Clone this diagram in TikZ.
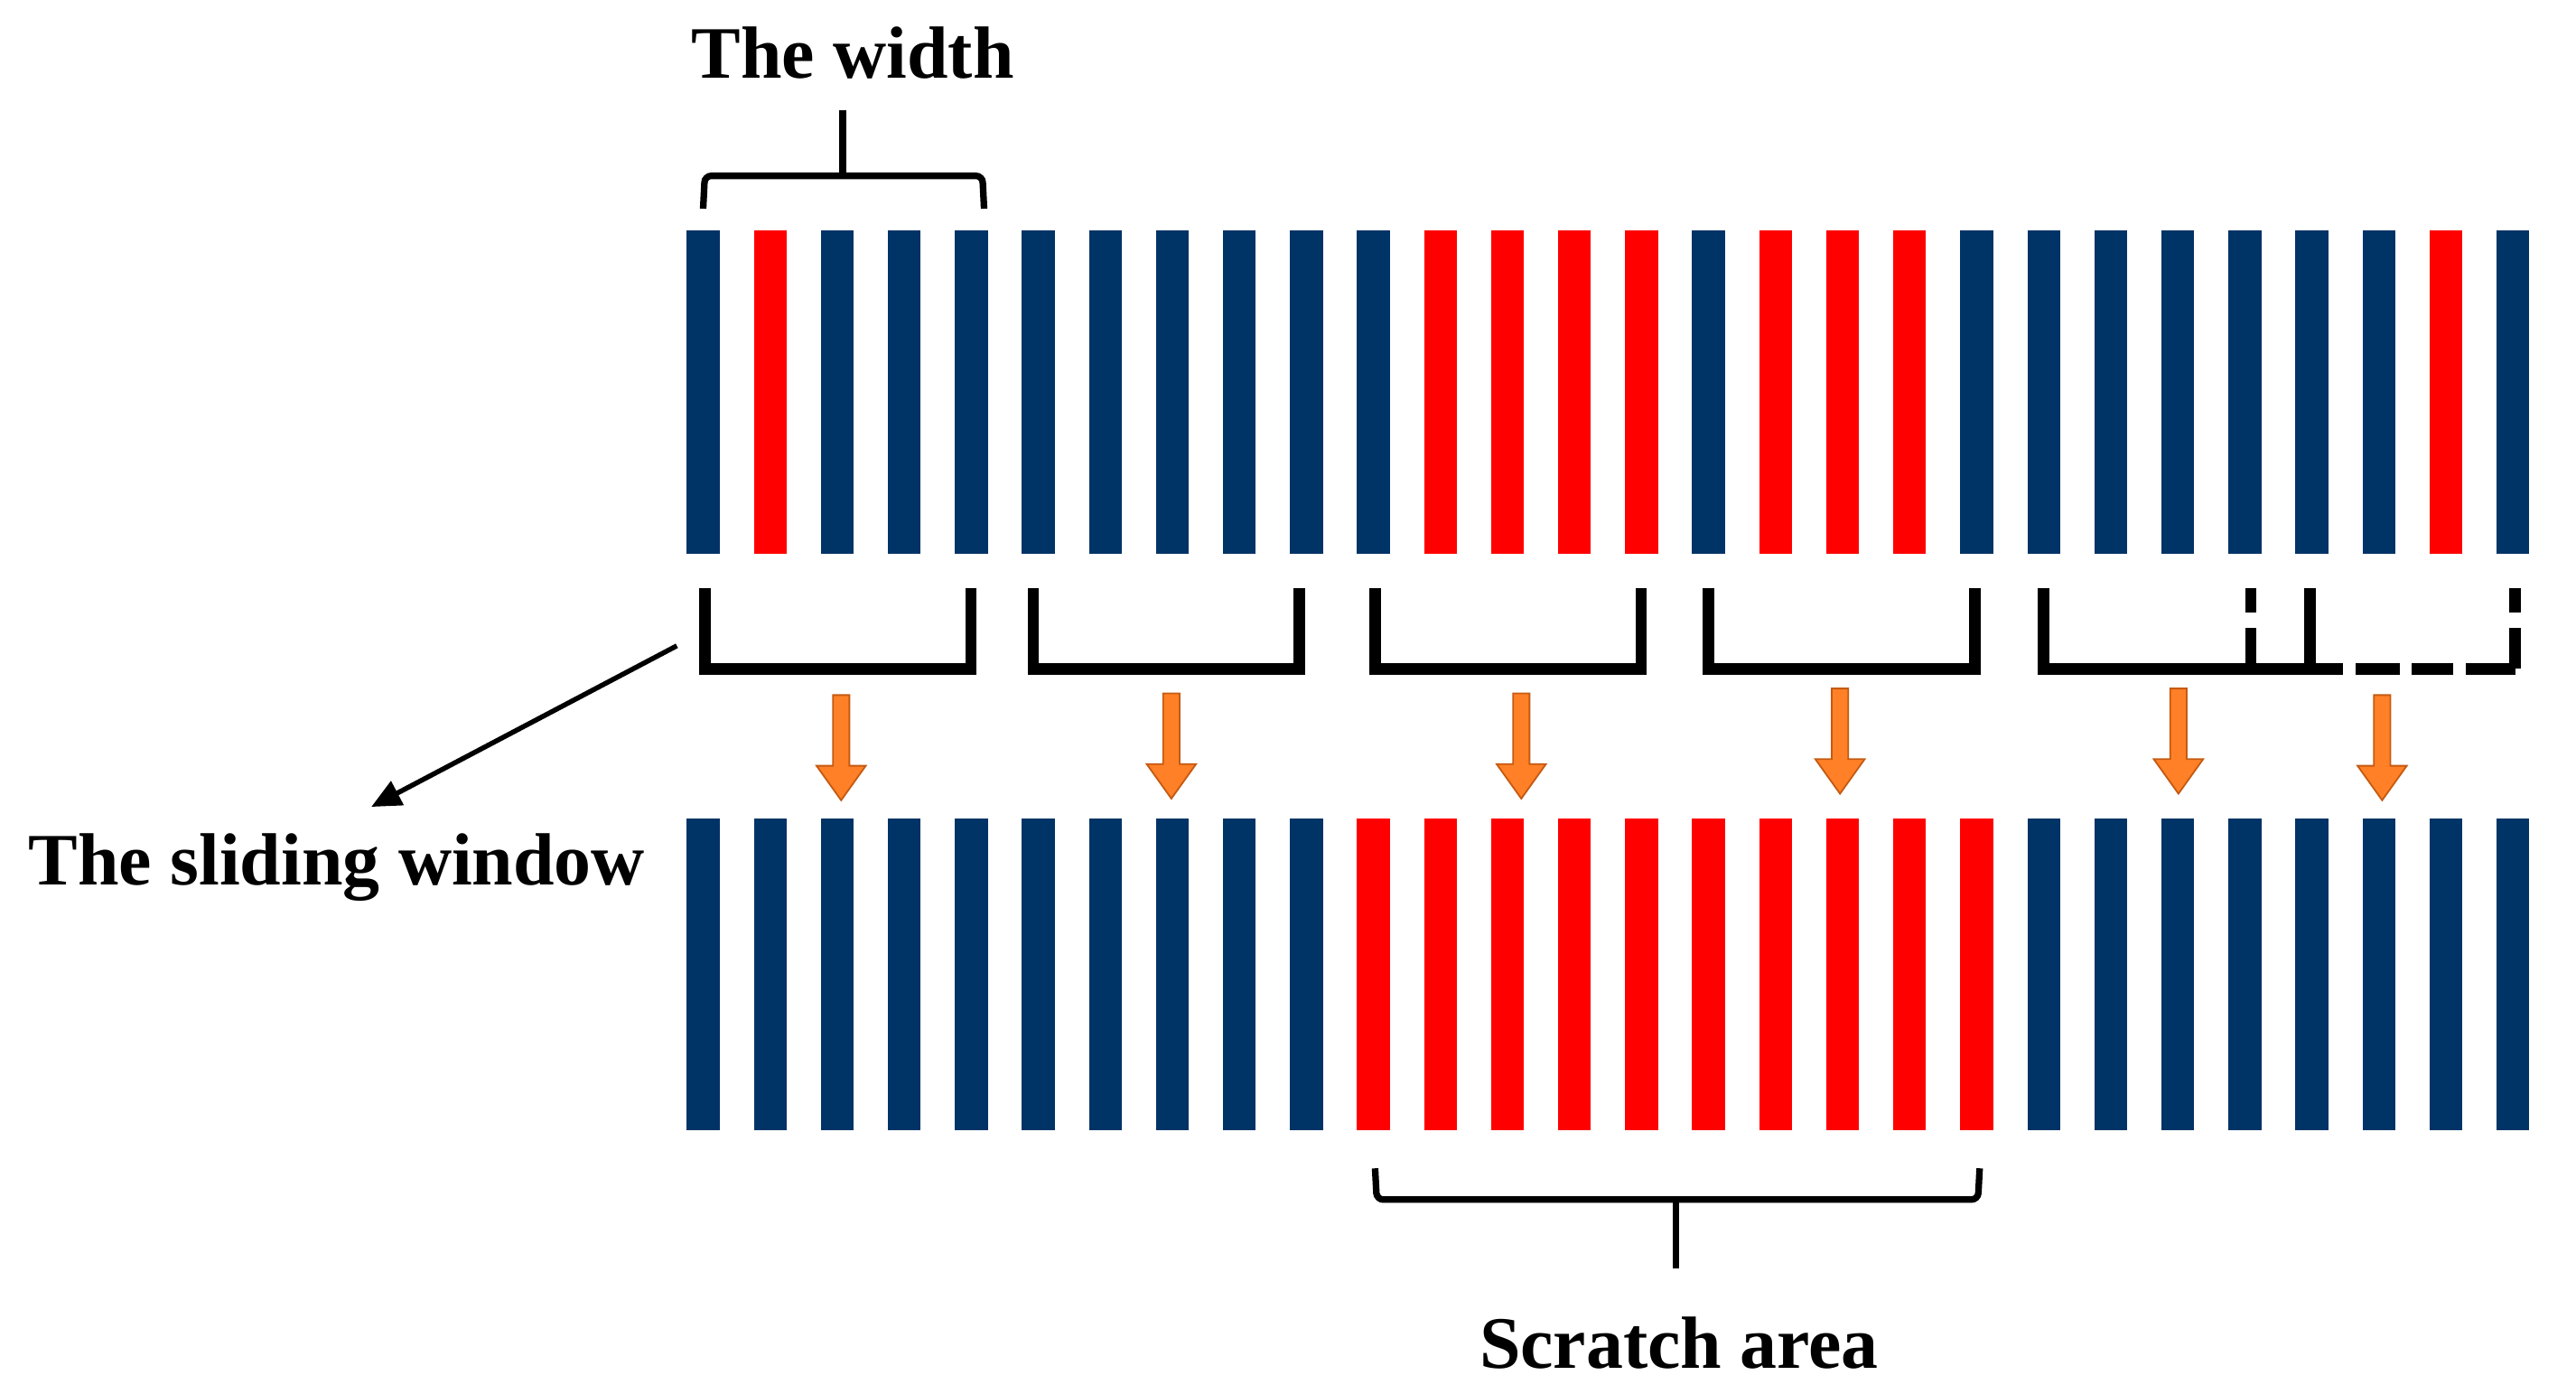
\documentclass[tikz,border=0pt]{standalone}
\usepackage{fontspec}
\setmainfont{Liberation Serif}
\usetikzlibrary{arrows.meta}
\definecolor{navy}{RGB}{0,51,102}
\definecolor{bred}{RGB}{255,0,0}
\definecolor{org}{RGB}{255,128,39}
\definecolor{orgd}{RGB}{197,90,17}
\begin{document}
\begin{tikzpicture}[x=1pt,y=-1pt,
  lbl/.style={font=\fontsize{45}{54}\selectfont\bfseries, inner sep=0pt},
  brk/.style={line width=7pt},
  brc/.style={line width=4pt, rounded corners=4pt},
  darr/.style={fill=org, draw=orgd, line width=1pt}]
\useasboundingbox (0,0) rectangle (1568,848);
% top row
\foreach \i in {0,...,27}{
  \pgfmathsetmacro{\xx}{418+40.8*\i}
  \def\c{navy}
  \ifnum\i=1 \def\c{bred}\fi
  \ifnum\i>10 \ifnum\i<15 \def\c{bred}\fi\fi
  \ifnum\i>15 \ifnum\i<19 \def\c{bred}\fi\fi
  \ifnum\i=26 \def\c{bred}\fi
  \fill[\c] (\xx,140) rectangle ++(20,197);
  \def\c{navy}
  \ifnum\i>9 \ifnum\i<20 \def\c{bred}\fi\fi
  \fill[\c] (\xx,498) rectangle ++(20,190);
}
% window brackets
\draw[brk] (429,358) -- (429,407) -- (591,407) -- (591,358);
\draw[brk] (629,358) -- (629,407) -- (791,407) -- (791,358);
\draw[brk] (837,358) -- (837,407) -- (999,407) -- (999,358);
\draw[brk] (1040,358) -- (1040,407) -- (1202,407) -- (1202,358);
\draw[brk] (1244,358) -- (1244,407) -- (1426,407);
\draw[brk] (1406,358) -- (1406,407);
\draw[brk] (1370,358) -- (1370,373);
\draw[brk] (1370,382) -- (1370,407);
\draw[brk] (1434,407) -- (1461,407);
\draw[brk] (1468,407) -- (1493,407);
\draw[brk] (1501,407) -- (1531,407);
\draw[brk] (1531,358) -- (1531,373);
\draw[brk] (1531,382) -- (1531,407);
% orange arrows
\foreach \ax/\ay in {512/423,713/422,926/422,1120/419,1326/419,1450/423}{
  \draw[darr] (\ax-5,\ay) -- (\ax+5,\ay) -- (\ax+5,\ay+43) -- (\ax+15,\ay+43)
    -- (\ax,\ay+64) -- (\ax-15,\ay+43) -- (\ax-5,\ay+43) -- cycle;
}
% labels
\node[lbl] (tw) at (519,32) {The width};
\node[lbl] (tsw) at (205,528) {The sliding window};
\node[lbl] (sa) at (1022,817) {Scratch area};
% width brace
\coordinate (wb) at (513,67);
\draw[brc] (428,127) -- (429,107) -- (598,107) -- (599,127);
\draw[line width=4pt] (513,107) -- (wb);
% scratch brace
\coordinate (sb) at (1020,772);
\draw[brc] (837,711) -- (838,730) -- (1204,730) -- (1205,711);
\draw[line width=4pt] (1020,730) -- (sb);
% sliding window arrow
\coordinate (s1) at (412,393);
\coordinate (s2) at (226,491);
\draw[line width=3pt, -{Triangle[length=18pt,width=16pt]}] (s1) -- (s2);
\end{tikzpicture}
\end{document}
